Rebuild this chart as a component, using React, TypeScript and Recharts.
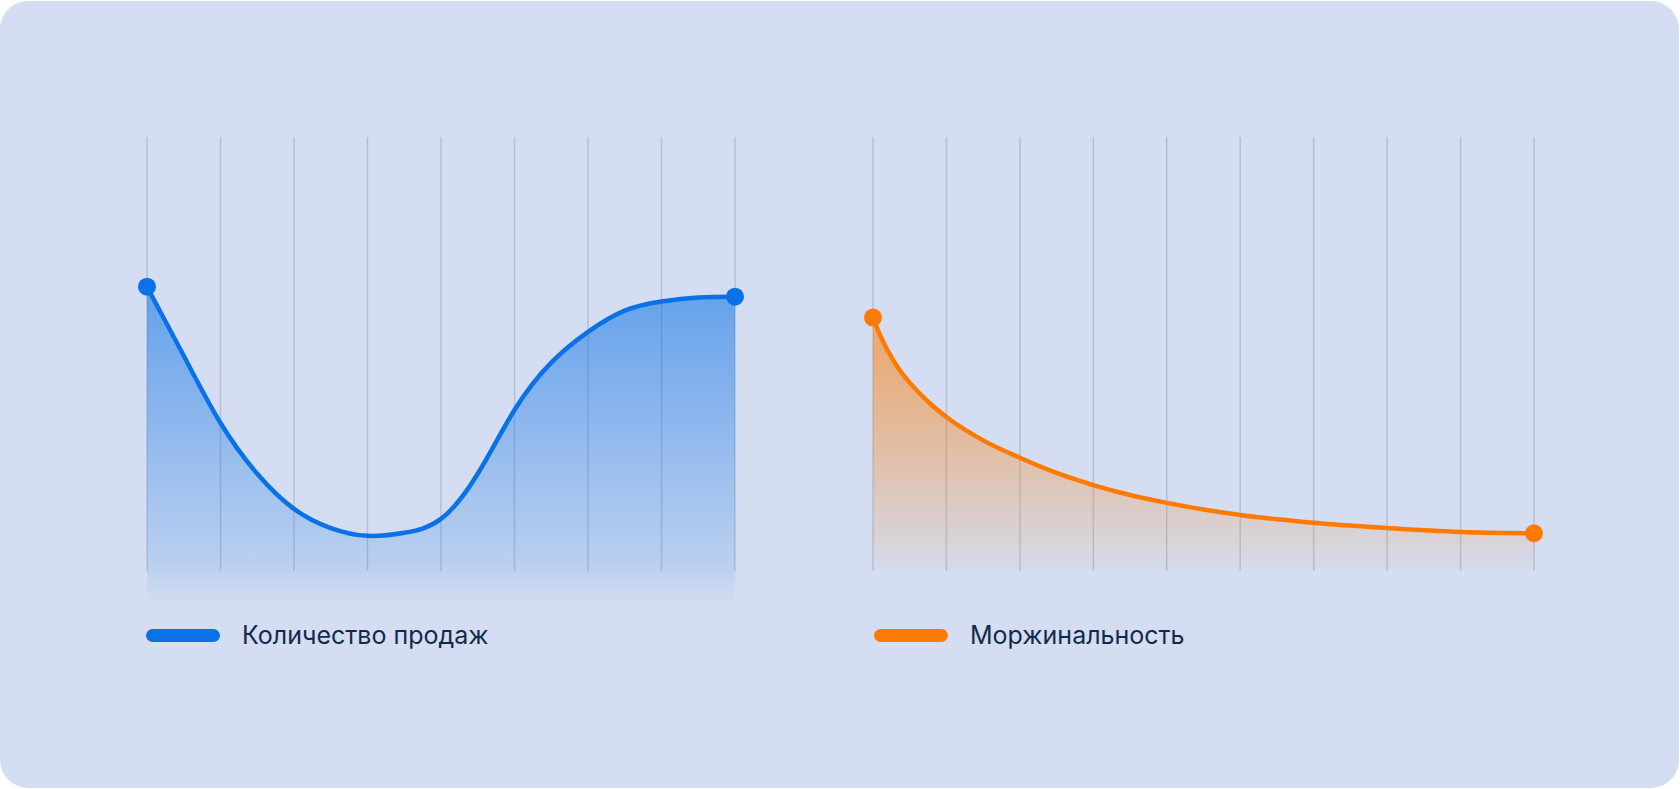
import { Area, AreaChart, CartesianGrid, XAxis, YAxis } from 'recharts';

const SERIES_NAMES = ['Количество продаж', 'Моржинальность'];

const SALES_X = [0, 0.5, 1, 1.5, 2, 2.5, 3, 3.5, 4, 4.5, 5, 5.5, 6, 6.5, 7, 7.5, 8];
const SALES_VALUES = [65.5, 49.6, 34.1, 22.4, 14.3, 9.9, 8.1, 8.8, 12.0, 22.4, 37.1, 48.0, 55.1, 60.0, 62.1, 63.0, 63.2];
const SALES_TICKS = [0, 1, 2, 3, 4, 5, 6, 7, 8];

const MARGIN_X = [0, 0.1, 0.2, 0.35, 0.5, 0.75, 1, 1.5, 2, 2.5, 3, 3.5, 4, 5, 6, 7, 8, 9];
const MARGIN_VALUES = [58.4, 54.2, 50.8, 46.6, 43.4, 39.0, 35.5, 30.1, 26.1, 22.6, 19.8, 17.5, 15.7, 12.9, 11.1, 9.9, 9.0, 8.7];
const MARGIN_TICKS = [0, 1, 2, 3, 4, 5, 6, 7, 8, 9];

const BLUE = '#0a72e6';
const ORANGE = '#ff7a00';
const GRID = '#b3bfd6';
const TEXT = '#112b4d';

const salesData = SALES_X.map((x, i) => ({ x, value: SALES_VALUES[i] }));
const marginData = MARGIN_X.map((x, i) => ({ x, value: MARGIN_VALUES[i] }));

function endDots(color: string, last: number) {
  return (props: any) => {
    const { cx, cy, index } = props;
    if (index !== 0 && index !== last) return <g key={`d-${index}`} />;
    return <circle key={`d-${index}`} cx={cx} cy={cy} r={9} fill={color} />;
  };
}

function LegendItem({ color, label, left }: { color: string; label: string; left: number }) {
  return (
    <div style={{ position: 'absolute', left, top: 620, display: 'flex', alignItems: 'center', height: 30 }}>
      <div style={{ width: 74, height: 13, borderRadius: 7, background: color }} />
      <span style={{ marginLeft: 22, fontFamily: 'Inter, sans-serif', fontSize: 25, color: TEXT, lineHeight: '30px' }}>
        {label}
      </span>
    </div>
  );
}

export default function App() {
  return (
    <div style={{ position: 'relative', width: 1680, height: 789, background: '#fff', overflow: 'hidden' }}>
      <style>{'body{margin:0}'}</style>
      <div
        style={{
          position: 'absolute',
          left: 0,
          top: 1,
          width: 1679,
          height: 787,
          borderRadius: 28,
          background: '#d4ddf1',
        }}
      />
      <div style={{ position: 'absolute', left: 0, top: 0 }}>
        <AreaChart width={800} height={700} data={salesData} margin={{ top: 137, right: 65, left: 147, bottom: 129 }}>
          <defs>
            <linearGradient id="salesFill" x1="0" y1="0" x2="0" y2="1">
              <stop offset="0%" stopColor={BLUE} stopOpacity={0.56} />
              <stop offset="45%" stopColor={BLUE} stopOpacity={0.34} />
              <stop offset="87%" stopColor={BLUE} stopOpacity={0.13} />
              <stop offset="100%" stopColor={BLUE} stopOpacity={0} />
            </linearGradient>
          </defs>
          <CartesianGrid horizontal={false} stroke={GRID} strokeWidth={1.5} />
          <XAxis dataKey="x" type="number" domain={[0, 8]} ticks={SALES_TICKS} hide />
          <YAxis type="number" domain={[0, 100]} hide />
          <Area
            type="natural"
            dataKey="value"
            name={SERIES_NAMES[0]}
            stroke={BLUE}
            strokeWidth={4.5}
            fill="url(#salesFill)"
            fillOpacity={1}
            baseValue={-8}
            dot={endDots(BLUE, SALES_X.length - 1)}
            activeDot={false}
            isAnimationActive={false}
          />
        </AreaChart>
      </div>
      <div style={{ position: 'absolute', left: 820, top: 0 }}>
        <AreaChart width={780} height={700} data={marginData} margin={{ top: 137, right: 66, left: 53, bottom: 129 }}>
          <defs>
            <linearGradient id="marginFill" x1="0" y1="0" x2="0" y2="1">
              <stop offset="0%" stopColor={ORANGE} stopOpacity={0.56} />
              <stop offset="50%" stopColor={ORANGE} stopOpacity={0.33} />
              <stop offset="85%" stopColor={ORANGE} stopOpacity={0.12} />
              <stop offset="100%" stopColor={ORANGE} stopOpacity={0.01} />
            </linearGradient>
          </defs>
          <CartesianGrid horizontal={false} stroke={GRID} strokeWidth={1.5} />
          <XAxis dataKey="x" type="number" domain={[0, 9]} ticks={MARGIN_TICKS} hide />
          <YAxis type="number" domain={[0, 100]} hide />
          <Area
            type="monotone"
            dataKey="value"
            name={SERIES_NAMES[1]}
            stroke={ORANGE}
            strokeWidth={4.5}
            fill="url(#marginFill)"
            fillOpacity={1}
            dot={endDots(ORANGE, MARGIN_X.length - 1)}
            activeDot={false}
            isAnimationActive={false}
          />
        </AreaChart>
      </div>
      <LegendItem color={BLUE} label={SERIES_NAMES[0]} left={146} />
      <LegendItem color={ORANGE} label={SERIES_NAMES[1]} left={874} />
    </div>
  );
}
